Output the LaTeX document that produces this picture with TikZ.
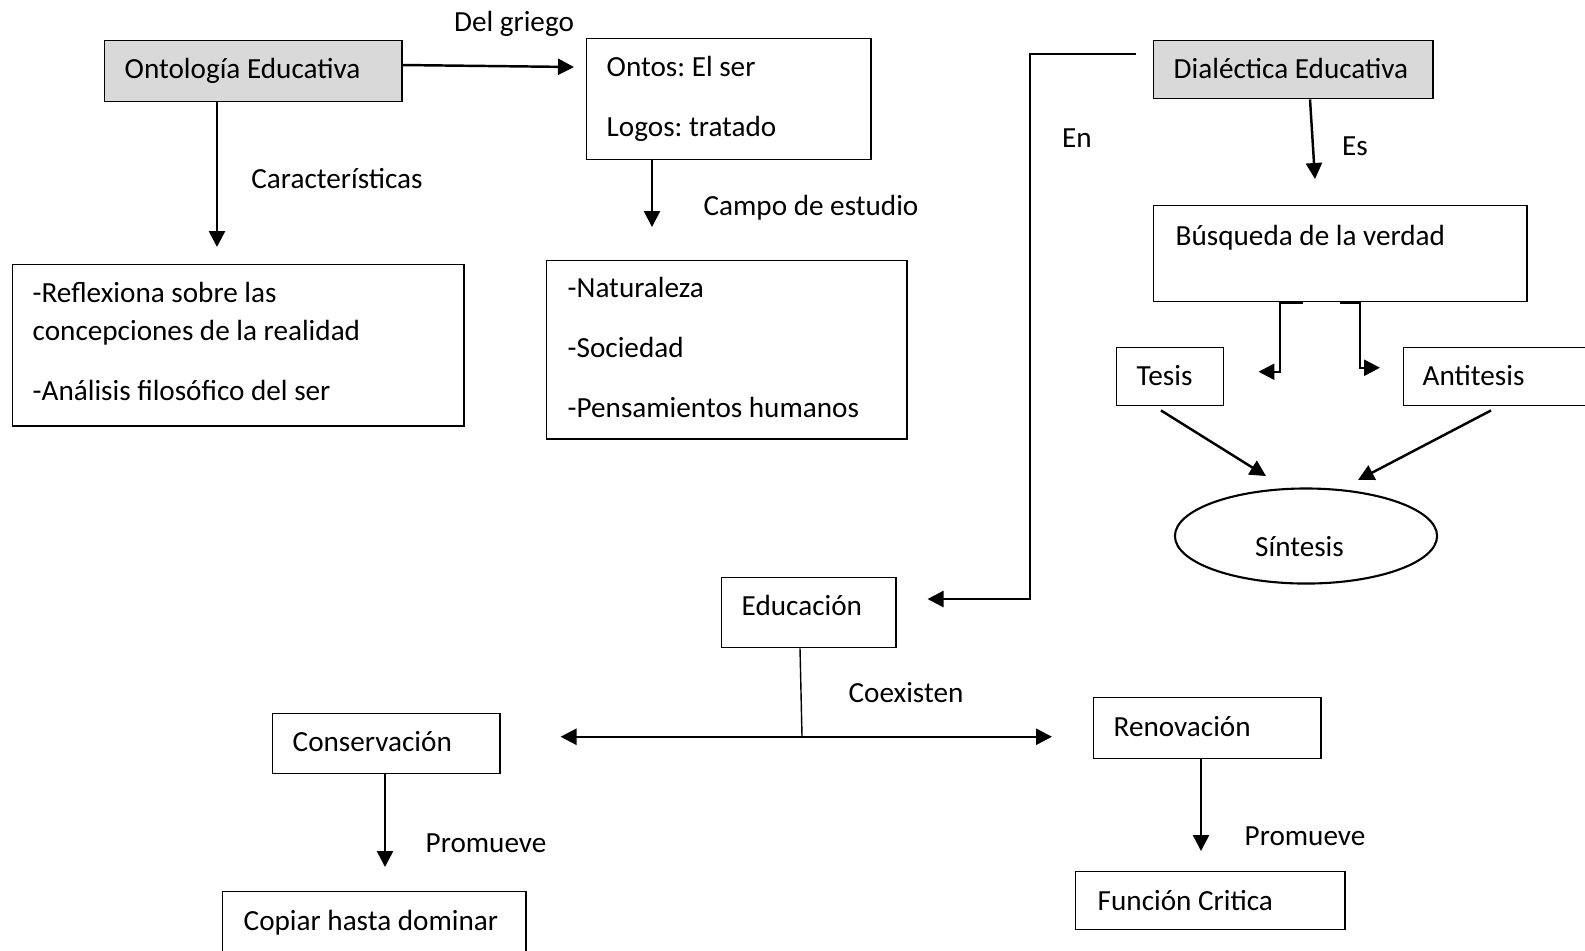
\documentclass[tikz,border=0pt]{standalone}
\usepackage{fontspec}
\setmainfont{Carlito}
\usetikzlibrary{arrows.meta,calc,shapes.geometric}

\newcommand\mapfont{\fontsize{8.3}{10.8}\selectfont\frenchspacing}
\colorlet{head fill}{gray!30}
\tikzset{box/.style={draw, line width=0.4pt, anchor=north west, align=flush left,
    inner ysep=0pt, font=\mapfont},
  headbox/.style={box, fill=head fill},
  link/.style={line width=0.7pt, ->},
  tag/.style={anchor=base, font=\mapfont}}

\begin{document}
\begin{tikzpicture}[x=0.01cm, y=-0.01cm, >={Triangle[length=0.16cm, width=0.16cm]}]
  \useasboundingbox (0,0) rectangle (1585,950);
  % ontologia
  \node[headbox, inner xsep=0.2cm, text width=2.57cm, text height=0.38cm, text depth=0.23cm]
    (onto) at (104,40) {Ontología Educativa};
  \node[box, inner xsep=0.2cm, text width=2.44cm, text height=0.38cm, text depth=0.83cm]
    (ontos) at (586,38) {Ontos: El ser\\[6.26pt]Logos: tratado};
  \node[box, inner xsep=0.21cm, text width=3.18cm, text height=0.37cm, text depth=1.41cm]
    (natur) at (546,260) {-Naturaleza\\[6.26pt]-Sociedad\\[6.26pt]-Pensamientos humanos};
  \node[box, inner xsep=0.2cm, text width=4.11cm, text height=0.38cm, text depth=1.23cm]
    (refl) at (12,264) {-Reflexiona sobre las\\concepciones de la realidad\\[6.26pt]-Análisis filosófico del ser};
  % dialectica
  \node[headbox, inner xsep=0.2cm, text width=2.39cm, text height=0.38cm, text depth=0.2cm]
    (dial) at (1153,40) {Dialéctica Educativa};
  \node[box, inner xsep=0.22cm, text width=3.29cm, text height=0.4cm, text depth=0.56cm]
    (busq) at (1153,205) {Búsqueda de la verdad};
  \node[box, inner xsep=0.2cm, text width=0.67cm, text height=0.38cm, text depth=0.2cm]
    (tesis) at (1116,347) {Tesis};
  \node[box, inner xsep=0.19cm, text width=1.6cm, text height=0.38cm, text depth=0.2cm]
    (anti) at (1403,347) {Antitesis};
  \node[draw, ellipse, line width=0.6pt, minimum width=2.62cm, minimum height=0.95cm,
    inner sep=0pt, font=\mapfont, text height=0.45cm, text depth=0.05cm]
    (sint) at (1306,536) {Síntesis\kern0.13cm};
  % educacion
  \node[box, inner xsep=0.2cm, text width=1.34cm, text height=0.38cm, text depth=0.32cm]
    (educ) at (721,577) {Educación};
  \node[box, inner xsep=0.2cm, text width=1.87cm, text height=0.38cm, text depth=0.22cm]
    (cons) at (272,713) {Conservación};
  \node[box, inner xsep=0.2cm, text width=1.87cm, text height=0.39cm, text depth=0.22cm]
    (renov) at (1093,697) {Renovación};
  \node[box, inner xsep=0.21cm, text width=2.61cm, text height=0.39cm, text depth=0.8cm]
    (copiar) at (222,891) {Copiar hasta dominar};
  \node[box, inner xsep=0.22cm, text width=2.25cm, text height=0.39cm, text depth=0.19cm]
    (func) at (1075,871) {Función Critica};

  \node[tag] (griego) at (514,31) {Del griego};
  \node[tag] (caract) at (337,188) {Características};
  \node[tag] (campo) at (811,215) {Campo de estudio};
  \node[tag] (en) at (1077,147) {En};
  \node[tag] (es) at (1355,155) {Es};
  \node[tag] (coex) at (906,702) {Coexisten};
  \node[tag] (promcons) at (486,852) {Promueve};
  \node[tag] (promrenov) at (1305,845) {Promueve};

  \draw[link] ($(onto.north east)+(0,25)$) -- ($(ontos.north west)+(-12,29)$);
  \draw[link] ($(onto.south west)+(113,0)$) -- ($(refl.north west)+(205,-17)$);
  \draw[link] ($(ontos.south west)+(66,0)$) -- ($(natur.north west)+(106,-33)$);
  \draw[link] ($(dial.north west)+(-17,14)$) -- ++(-106,0) |- ($(educ.north east)+(31,22)$);
  \draw[link] ($(dial.south west)+(157,0)$) -- ($(busq.north west)+(162,-26)$);
  \draw[link] ($(busq.south west)+(150,0)$) -- ++(-23,0) |- ($(tesis.east)+(34,-5)$);
  \draw[link] ($(busq.south west)+(187,0)$) -- ++(20,0) |- ($(anti.west)+(-23,-9)$);
  \draw[link] ($(tesis.south west)+(45,4)$) -- ($(sint.center)+(-40,-60)$);
  \draw[link] ($(anti.south west)+(88,4)$) -- ($(sint.center)+(52,-56)$);
  \coordinate (meet) at (802,736);
  \draw[line width=0.4pt] ($(educ.south west)+(79,0)$) -- (meet);
  \draw[link, <->] ($(cons.east)+(60,-7)$) -- ($(renov.west)+(-41,8.5)$);
  \draw[link] ($(cons.south west)+(113,0)$) -- ($(copiar.north west)+(163,-24)$);
  \draw[link] ($(renov.south west)+(108,0)$) -- ($(func.north west)+(126,-20)$);
\end{tikzpicture}
\end{document}
